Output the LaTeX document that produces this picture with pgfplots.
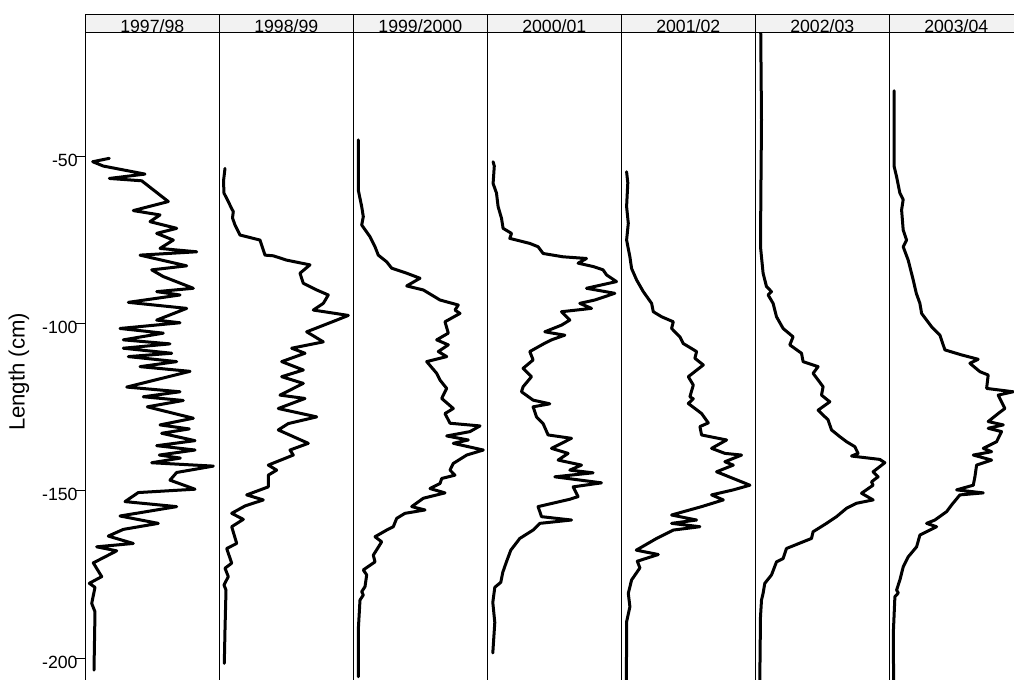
\documentclass[border=0pt]{standalone}
\usepackage{pgfplots}
\pgfplotsset{compat=1.18}
\usepackage{fontspec}
\setmainfont{Liberation Sans}
\definecolor{stripbg}{HTML}{F2F2F2}
\begin{document}
\begin{tikzpicture}
\pgfplotsset{
  panel/.style={
    scale only axis, width=67pt, height=339.95pt,
    xmin=0, xmax=134, ymin=-216, ymax=-12.97,
    xtick=\empty, ytick=\empty,
    axis line style={line width=0.5pt},
    anchor=south west,
  },
  curve/.style={black, line width=1.5pt, line join=round, line cap=round, mark=none},
}
\path[use as bounding box] (0pt,0pt) rectangle (507pt,-340pt);
\clip (0pt,0pt) rectangle (507pt,-340pt);
% 1997/98
\begin{axis}[panel, at={(42.65pt,-355.95pt)},
  ytick={-200,-150,-100,-50}, yticklabels={-200,-150,-100,-50},
  ytick pos=left, tick align=outside, major tick length=4.65pt,
  tick style={line width=0.5pt, black},
  yticklabel style={font=\fontsize{8.85pt}{10pt}\selectfont, anchor=east, inner sep=0pt, yshift=-2pt, xshift=1pt},
  ylabel={Length (cm)},
  ylabel style={font=\fontsize{11.06pt}{13pt}\selectfont, at={(axis description cs:-0.4157,0.5)}, anchor=south, inner sep=0pt}]
\addplot[curve] coordinates {
(24,-50.7) (7.4,-51.7) (18,-53.0) (59.7,-55.4) (24,-56.7) (56.4,-57.4) (83,-63.6) (48,-66.3) (74.7,-67.6) (64.7,-69.6) (91.4,-71.6) (71.4,-73.1) (88,-75.1) (74.7,-77.6) (111.4,-78.6) (54.7,-79.6) (101.4,-82.8) (66.4,-84.0) (78,-86.0) (108,-89.5) (71.4,-90.5) (94.7,-91.5) (43,-93.7) (101.4,-95.5) (71.4,-99.0) (94.7,-99.8) (34.7,-101.5) (78,-102.9) (38,-104.9) (84.7,-106.1) (38,-107.4) (86.4,-108.9) (43,-109.9) (91.4,-111.4) (54.7,-112.9) (104.7,-114.3) (41.4,-119.0) (94.7,-120.4) (58,-121.9) (98,-123.0) (62,-124.9) (108,-128.3) (74.7,-130.3) (104,-131.5) (76.4,-132.8) (109.7,-135.0) (71.4,-136.5) (109.7,-137.8) (74,-139.3) (95,-140.2) (66.4,-141.6) (128,-142.6) (91.4,-144.5) (84.7,-146.8) (109.7,-149.5) (53,-150.5) (39.7,-153.2) (91.4,-154.7) (34.7,-157.5) (73,-159.7) (38,-161.5) (23,-163.5) (48,-165.7) (11.4,-166.7) (31.4,-167.9) (8,-171.5) (16.4,-175.6) (4,-177.6) (9.7,-178.8) (6.4,-183.6) (9.7,-186.1) (8.7,-203.5)
};
\end{axis}
% 1998/99
\begin{axis}[panel, at={(109.65pt,-355.95pt)}]
\addplot[curve] coordinates {
(5.7,-53.7) (4.2,-57.5) (4.7,-61.1) (9,-63.6) (12,-65.5) (14,-66.6) (13.2,-68.5) (15.7,-70.6) (20.7,-73.6) (27.4,-74.1) (40.7,-75.1) (45.7,-79.6) (54,-79.8) (67.4,-81.1) (90.7,-82.5) (80.7,-85.0) (84,-88.0) (97.4,-90.0) (109,-91.5) (104,-94.0) (94,-96.0) (129,-97.6) (117.4,-99.0) (87.4,-102.5) (104,-105.5) (72.4,-107.4) (85.7,-108.9) (62.4,-111.4) (84,-113.9) (62.4,-115.9) (84,-117.9) (60.7,-121.4) (85.7,-122.4) (59,-125.4) (97.4,-127.9) (69,-129.9) (59,-131.8) (89,-135.8) (70.7,-137.8) (74,-139.3) (49,-142.3) (57.4,-143.8) (49,-145.3) (49,-148.8) (27.4,-151.2) (44,-152.7) (25.7,-154.5) (12.4,-156.7) (24,-158.5) (12.4,-160.7) (17.4,-165.7) (7.4,-167.2) (12.4,-171.6) (5.7,-173.1) (9,-175.6) (4.7,-178.1) (6.7,-179.6) (5.7,-191.5) (5,-201.5)
};
\end{axis}
% 1999/2000
\begin{axis}[panel, at={(176.65pt,-355.95pt)}]
\addplot[curve] coordinates {
(5,-45.2) (5,-60.2) (8.4,-65.1) (10,-68.1) (8.4,-70.6) (16.7,-74.1) (21.7,-77.1) (25,-79.6) (33.4,-81.6) (38.4,-83.5) (53.4,-85.0) (66.7,-86.5) (53.4,-88.8) (70,-90.0) (86.7,-93.0) (105,-94.5) (101.7,-96.0) (106.7,-97.0) (91.7,-99.5) (95,-102.9) (83.4,-104.9) (95,-106.4) (85,-108.4) (93.4,-109.9) (73.4,-111.4) (83.4,-114.9) (86.7,-116.9) (93.4,-119.4) (88.4,-122.4) (100,-125.4) (91.7,-126.9) (96.7,-129.8) (126.7,-130.6) (116.7,-132.3) (93.4,-133.6) (115,-134.8) (100,-135.8) (130,-137.8) (113.4,-139.3) (100,-141.8) (96.7,-143.8) (101.7,-145.3) (88.4,-146.3) (86.7,-147.8) (76.7,-149.3) (91.7,-150.6) (70,-152.2) (58.4,-154.7) (71.7,-155.7) (51.7,-156.7) (43.4,-158.2) (40,-160.7) (33.4,-161.7) (21.7,-163.7) (28.4,-165.2) (20,-169.2) (21.7,-171.2) (10,-173.6) (13.4,-175.1) (11.7,-178.6) (8.4,-180.1) (10,-181.1) (6.7,-182.6) (5,-191.5) (5,-205.5)
};
\end{axis}
% 2000/01
\begin{axis}[panel, at={(243.65pt,-355.95pt)}]
\addplot[curve] coordinates {
(5.8,-51.7) (7,-53) (5.8,-58.2) (9.2,-61.1) (10.8,-65.1) (14.2,-68.6) (15.8,-71.6) (24.2,-73.1) (22.5,-74.6) (42.5,-76.1) (50.8,-77.1) (55.8,-79.1) (75.8,-80.1) (99.2,-80.6) (90.8,-82.0) (105.8,-83.0) (115.8,-84.0) (119.2,-85.5) (129.2,-87.5) (99.2,-89.5) (127.5,-91.0) (107.5,-93.0) (92.5,-94.0) (104.2,-95.5) (74.2,-96.5) (82.5,-99.0) (74.2,-100.5) (57.5,-102.5) (77.5,-103.5) (64.2,-104.9) (57.5,-105.9) (42.5,-108.4) (45.8,-110.9) (35.8,-113.4) (44.2,-115.9) (35.8,-118.9) (34.2,-120.4) (45.8,-122.9) (62.5,-124.0) (45.8,-124.9) (49.2,-127.9) (55.8,-129.9) (60.8,-133.3) (84.2,-134.3) (64.2,-137.3) (80.8,-138.8) (70.8,-140.8) (94.2,-142.3) (82.5,-143.8) (105.8,-144.6) (67.5,-145.8) (114.2,-147.6) (85.8,-148.8) (90.8,-151.7) (82.5,-152.5) (50.8,-154.7) (54.2,-157.7) (84.2,-158.7) (52.5,-159.7) (45.8,-161.7) (32.5,-164.2) (23.5,-167.7) (19,-171.3) (15.5,-174.3) (13.5,-177.3) (7.5,-178.8) (5.5,-183.3) (7.5,-189.3) (5.5,-198.4)
};
\end{axis}
% 2001/02
\begin{axis}[panel, at={(310.65pt,-355.95pt)}]
\addplot[curve] coordinates {
(5.3,-54.7) (6.5,-58) (5.3,-65.1) (7,-70.1) (5.3,-75.1) (8.6,-80.1) (10.3,-83.6) (15.3,-87.0) (22,-90.5) (30.3,-94.0) (32,-96.5) (40.3,-98.0) (52,-99.5) (50.3,-101.5) (58.6,-104.0) (62,-106.0) (75.3,-108.4) (73.6,-110.4) (82,-112.4) (67,-115.9) (72,-118.4) (68.6,-121.9) (72,-122.5) (67,-123.9) (80.3,-126.9) (87,-129.7) (78.6,-130.8) (80.3,-133.3) (105.3,-134.8) (90.3,-137.3) (103.6,-138.8) (120.3,-139.3) (103.6,-141.3) (112,-142.3) (95.3,-144.3) (112,-146.3) (128.6,-148.3) (112,-149.7) (90.3,-151.2) (102,-152.7) (80.3,-154.7) (50.3,-157.2) (75.3,-158.7) (50.3,-159.7) (78.6,-160.7) (52,-161.7) (35.3,-164.2) (15,-167.7) (37,-169) (16,-171) (18.6,-173) (10.3,-176.6) (7,-180.6) (8.6,-184.6) (5.3,-189.1) (5,-220)
};
\end{axis}
% 2002/03
\begin{axis}[panel, at={(377.65pt,-355.95pt)}]
\addplot[curve] coordinates {
(5.2,-5) (6.2,-39.2) (5.5,-64.1) (5.2,-77.1) (7.8,-85.0) (11.2,-89.0) (16.2,-90.5) (12.8,-91.5) (17.8,-94.0) (21.2,-98.0) (27.8,-101.5) (37.8,-104.0) (34.5,-106.4) (46.2,-108.9) (47.8,-111.4) (62.8,-112.9) (57.8,-114.9) (67.8,-118.9) (66.2,-121.4) (74.5,-123.4) (62.8,-125.9) (72.8,-128.8) (76.2,-131.8) (84.5,-133.8) (91.2,-135.3) (99.5,-136.8) (102.8,-138.8) (96.2,-139.6) (124.5,-140.6) (129.5,-141.6) (117.8,-144.3) (122.8,-145.8) (116.2,-147.3) (117.8,-148.3) (106.2,-150.7) (117.8,-152.7) (101.2,-153.7) (91.2,-155.2) (81.2,-157.7) (71.2,-159.7) (57.8,-162.2) (56.2,-164.2) (31.2,-167.2) (27.8,-170.2) (21.2,-171.2) (16.2,-175.1) (9.5,-177.6) (7.8,-180.6) (6.2,-182.6) (5.2,-187.6) (4.5,-206.5) (4.5,-220)
};
\end{axis}
% 2003/04
\begin{axis}[panel, at={(444.65pt,-355.95pt)}]
\addplot[curve] coordinates {
(4.9,-30.5) (4.9,-53.2) (7.3,-56.2) (10.6,-61.1) (13.9,-63) (12.3,-66.1) (13.9,-72.1) (17.3,-75.1) (13.9,-77.1) (18.9,-81.1) (23.9,-87.0) (27,-91) (30.6,-94.0) (32.3,-97.0) (42.3,-101.0) (50.6,-103.5) (55.6,-107.9) (72.3,-109.4) (88.9,-110.7) (80.6,-111.9) (90.6,-114.4) (98.9,-115.4) (97.3,-119.4) (123.9,-120.4) (108.9,-121.4) (115.6,-125.4) (108.9,-126.9) (98.9,-129.3) (114,-130.3) (98.9,-131.3) (112.3,-132.3) (107.3,-135.3) (94,-137.3) (102.3,-138.3) (84,-139.3) (102.3,-140.8) (87.3,-142.3) (85.6,-145.8) (84,-148.3) (67.3,-149.7) (94,-150.6) (70.6,-151.2) (62.3,-154.2) (57.3,-156.2) (45.6,-158.7) (37.3,-159.7) (47.3,-160.7) (30.6,-163.2) (27.3,-166.7) (18.9,-169.7) (13.9,-172.7) (10.6,-176.6) (7.3,-179.6) (9,-180.5) (5.6,-181.6) (4,-192.6) (4.6,-220)
};
\end{axis}
% strips
\foreach \i/\lab in {0/{1997/98},1/{1998/99},2/{1999/2000},3/{2000/01},4/{2001/02},5/{2002/03},6/{2003/04}}{
  \pgfmathsetmacro{\xl}{42.65+67*\i}
  \fill[stripbg] (\xl pt,-7pt) rectangle ++(67pt,-9pt);
  \node[anchor=base, inner sep=0pt, font=\fontsize{8.85pt}{10pt}\selectfont] at (\xl pt+33.5pt,-16.1pt) {\lab};
  \draw[line width=0.5pt] (\xl pt,-7pt) rectangle ++(67pt,-9pt);
}
\end{tikzpicture}
\end{document}
